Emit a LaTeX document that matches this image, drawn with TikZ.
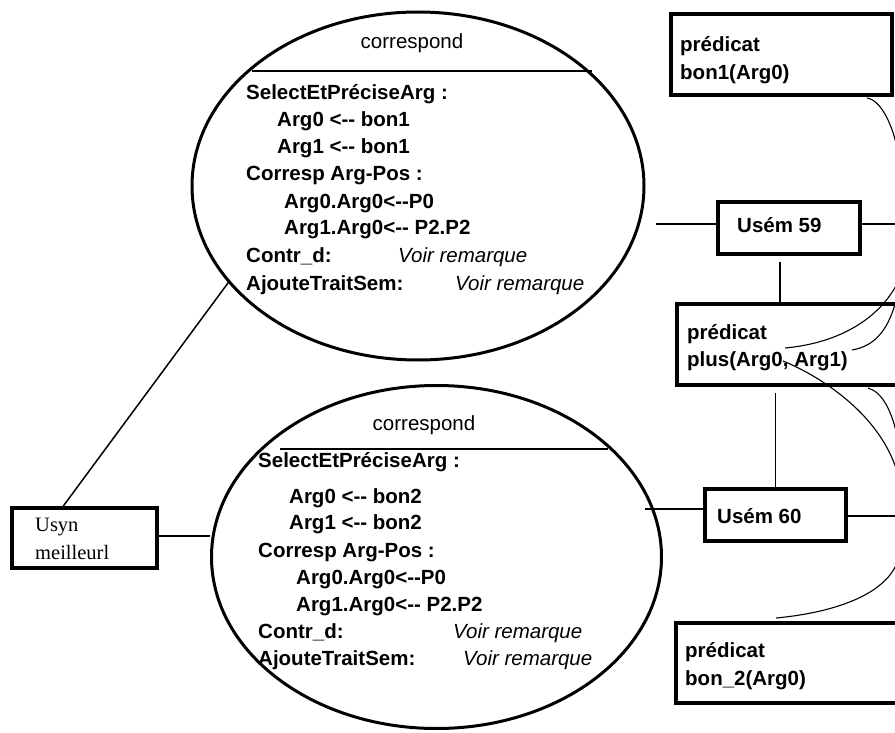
\documentclass[tikz,border=0pt]{standalone}
\usepackage{fontspec}
\setmainfont{Liberation Sans}
\newfontfamily\serifface{Liberation Serif}
\usetikzlibrary{shapes.geometric}
% two hyphens kept apart so they are not merged into a dash
\newcommand{\twohy}{-\kern0pt-}

\begin{document}
\begin{tikzpicture}[x=1pt,y=-1pt,
  box/.style={draw, line width=3.1pt, rectangle, inner sep=0pt},
  oval/.style={draw, line width=3pt, ellipse, inner sep=0pt},
  lbl/.style={anchor=base west, inner sep=0pt, font=\fontsize{20.5}{24}\selectfont\bfseries},
  ttl/.style={anchor=base, inner sep=0pt, font=\fontsize{20.5}{24}\selectfont},
  rem/.style={anchor=base west, inner sep=0pt, font=\fontsize{20.5}{24}\selectfont\itshape},
  srf/.style={anchor=base west, inner sep=0pt, font=\serifface\fontsize{20.5}{24}\selectfont},
  link/.style={line width=1.5pt},
  curve/.style={line width=1.1pt},
]
\useasboundingbox (0,0) rectangle (895,733);
\fill[white] (0,0) rectangle (895,733);
\clip (0,0) rectangle (895,733);

% ---- the two correspondence ovals ----
\node[oval, minimum width=452pt, minimum height=348pt] (top) at (418,186) {};
\draw[line width=2.2pt] (252,71) -- (592,71);
\node[ttl] (topttl) at (412,49) {correspond};
\node[lbl] (t1) at (246,99.5) {SelectEtPréciseArg :};
\node[lbl] (t2) at (277,126.5) {Arg0 <\twohy{} bon1};
\node[lbl] (t3) at (277,153.5) {Arg1 <\twohy{} bon1};
\node[lbl] (t4) at (246,181) {Corresp Arg-Pos :};
\node[lbl] (t5) at (284,208) {Arg0.Arg0<\twohy{}P0};
\node[lbl] (t6) at (284,235) {Arg1.Arg0<\twohy{} P2.P2};
\node[lbl] (t7) at (246,262.5) {Contr\_d:};
\node[rem] (v7) at (398,262.5) {Voir remarque};
\node[lbl] (t8) at (246,290) {AjouteTraitSem:};
\node[rem] (v8) at (455,290) {Voir remarque};

\node[oval, minimum width=450pt, minimum height=343pt] (bot) at (436.5,557) {};
\draw[line width=2.2pt] (280,449) -- (608,449);
\node[ttl] (botttl) at (424,430) {correspond};
\node[lbl] (b1) at (258,467) {SelectEtPréciseArg :};
\node[lbl] (b2) at (289,503) {Arg0 <\twohy{} bon2};
\node[lbl] (b3) at (289,529.5) {Arg1 <\twohy{} bon2};
\node[lbl] (b4) at (258,557) {Corresp Arg-Pos :};
\node[lbl] (b5) at (296,584) {Arg0.Arg0<\twohy{}P0};
\node[lbl] (b6) at (296,611) {Arg1.Arg0<\twohy{} P2.P2};
\node[lbl] (b7) at (258,638) {Contr\_d:};
\node[rem] (w7) at (453,638) {Voir remarque};
\node[lbl] (b8) at (258,665) {AjouteTraitSem:};
\node[rem] (w8) at (463,665) {Voir remarque};

% ---- boxes ----
\node[box, minimum width=221pt, minimum height=81pt] (bon1) at (781.5,54.5) {};
\node[lbl] (bon1a) at (680,52) {prédicat};
\node[lbl] (bon1b) at (680,79.5) {bon1(Arg0)};

\node[box, minimum width=142pt, minimum height=52pt] (u59) at (789,228) {};
\node[lbl] (u59t) at (737,233) {Usém 59};

\node[box, minimum width=290pt, minimum height=81pt] (plus) at (822,344.5) {};
\node[lbl] (plusa) at (687,339) {prédicat};
\node[lbl] (plusb) at (687,366) {plus(Arg0, Arg1)};

\node[box, minimum width=141pt, minimum height=52pt] (u60) at (775.5,515) {};
\node[lbl] (u60t) at (717,523) {Usém 60};

\node[box, minimum width=284pt, minimum height=80pt] (bon2) at (818,663) {};
\node[lbl] (bon2a) at (685,657) {prédicat};
\node[lbl] (bon2b) at (685,685) {bon\_2(Arg0)};

\node[box, minimum width=145pt, minimum height=60pt] (usyn) at (84.5,538) {};
\node[srf] (usyna) at (35,531) {Usyn};
\node[srf] (usynb) at (35,559) {meilleurl};

% ---- straight links ----
\coordinate (r59) at (900,224);
\coordinate (l60) at (645,509);
\coordinate (r60) at (900,516);
\draw[link] (top.207) -- ([xshift=-21.5pt]usyn.north);
\draw[link] ([yshift=2pt]usyn.east) -- ([yshift=2pt]usyn.east -| bot.west);
\draw[link, shorten >=10pt] ([yshift=4pt]u59.west) -- ([yshift=4pt]u59.west -| top.east);
\draw[link] (u59.east |- r59) -- (r59);
\draw[link, shorten <=6pt] ([xshift=-9pt]u59.south) -- ([xshift=-9pt]u59.south |- plus.north);
\draw[link, shorten >=6pt] (u60.north) -- (u60.north |- plus.south);
\draw[link] (u60.west |- l60) -- (l60);
\draw[link] (u60.east |- r60) -- (r60);

% ---- thin curved links leaving to the right ----
\coordinate (s1) at (867,98);   \coordinate (e1) at (898,155);
\coordinate (p0) at (785,348);  \coordinate (e2) at (898,282);
\coordinate (p1) at (852,350);  \coordinate (e3) at (898,292);
\coordinate (p2) at (783,361);  \coordinate (e4) at (898,475);
\coordinate (p3) at (868,388);  \coordinate (e5) at (898,440);
\coordinate (p4) at (776,618);  \coordinate (e6) at (898,560);
\draw[curve] (s1) .. controls (882,100) and (895,130) .. (e1);
\draw[curve] (p0) .. controls (840,343) and (880,318) .. (e2);
\draw[curve] (p1) .. controls (875,346) and (890,330) .. (e3);
\draw[curve] (p2) .. controls (820,376) and (882,415) .. (e4);
\draw[curve] (p3) .. controls (882,392) and (892,410) .. (e5);
\draw[curve] (p4) .. controls (840,612) and (888,592) .. (e6);
\end{tikzpicture}
\end{document}
